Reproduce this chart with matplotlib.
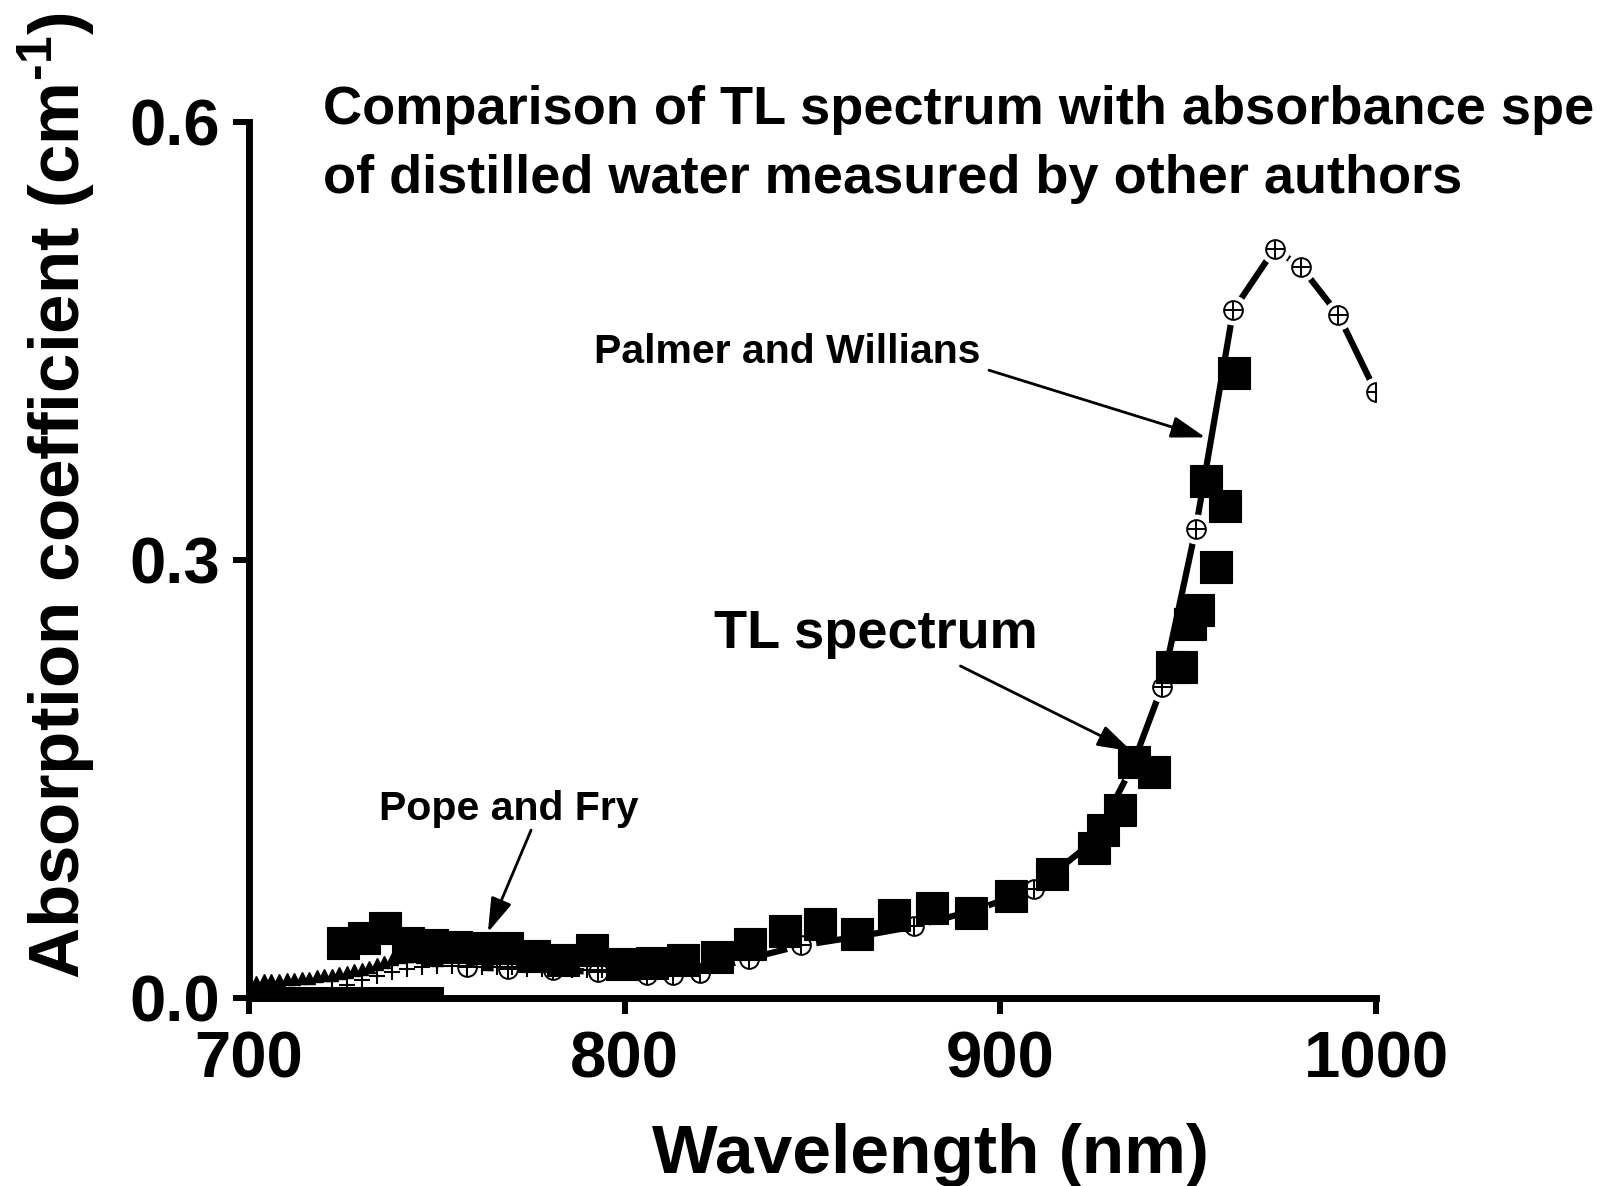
import matplotlib.pyplot as plt

plt.rcParams['font.family'] = ['Liberation Sans', 'DejaVu Sans']
plt.rcParams['font.weight'] = 'bold'
plt.rcParams['mathtext.fontset'] = 'custom'
plt.rcParams['mathtext.rm'] = 'Liberation Sans:bold'
plt.rcParams['mathtext.bf'] = 'Liberation Sans:bold'

# TL spectrum (filled squares)
tl_wl = [725.1, 730.6, 736.1, 742.3, 748.6, 755.0, 762.0, 768.6, 776.0, 783.6,
         791.2, 799.2, 807.2, 815.5, 824.5, 833.4, 842.7, 852.1, 861.8, 871.6,
         881.9, 892.3, 902.9, 913.8, 924.9, 927.3, 931.8, 935.6, 940.9, 945.7,
         948.1, 950.5, 952.6, 954.7, 957.4, 959.8, 962.2]
tl_val = [0.038, 0.041, 0.048, 0.038, 0.036, 0.035, 0.034, 0.034, 0.029, 0.026,
          0.033, 0.023, 0.024, 0.026, 0.028, 0.037, 0.046, 0.051, 0.044, 0.057,
          0.062, 0.058, 0.070, 0.085, 0.103, 0.115, 0.129, 0.162, 0.155, 0.227,
          0.227, 0.256, 0.266, 0.354, 0.295, 0.337, 0.428]

# Palmer and Willians (circle with cross, thick line)
pw_wl = [758, 769, 781, 793, 806, 813, 820, 833, 847, 862, 877, 893, 909,
         925, 935, 943, 952, 962, 973, 980, 990, 1000]
pw_val = [0.021, 0.020, 0.019, 0.018, 0.016, 0.016, 0.017, 0.027, 0.036, 0.042,
          0.049, 0.060, 0.0745, 0.108, 0.158, 0.213, 0.321, 0.471, 0.513, 0.501,
          0.468, 0.415]

# Pope and Fry (dense small markers near the bottom)
pf_tri_wl = [700, 702, 704, 706, 708, 710, 712, 714, 716, 718, 720, 722, 724,
             726, 728, 730, 732, 734, 736, 738, 740, 742, 744, 746, 748, 750]
pf_tri_val = [0.011, 0.011, 0.012, 0.012, 0.012, 0.013, 0.013, 0.014, 0.014,
              0.015, 0.016, 0.016, 0.017, 0.018, 0.019, 0.020, 0.021, 0.023,
              0.025, 0.027, 0.028, 0.029, 0.029, 0.028, 0.027, 0.026]
pf_plus_wl = [722, 726, 730, 734, 738, 742, 746, 750, 754, 758, 762, 766, 770,
              774, 778, 782, 786, 790, 794, 798]
pf_plus_val = [0.006, 0.009, 0.012, 0.015, 0.018, 0.020, 0.021, 0.022, 0.022,
               0.022, 0.021, 0.021, 0.021, 0.020, 0.020, 0.020, 0.019, 0.019,
               0.019, 0.018]
pf_low_wl = [700, 752]
pf_low_val = [0.0048, 0.0048]

fig = plt.figure(figsize=(16.02, 11.86), dpi=100)
ax = fig.add_axes([0.1554, 0.1585, 0.7035, 0.7386])

# Pope and Fry
ax.plot(pf_low_wl, pf_low_val, '-', color='k', lw=5.8, solid_capstyle='butt', zorder=2)
ax.plot(pf_tri_wl, pf_tri_val, '^', color='k', ms=8, zorder=2)
ax.plot(pf_plus_wl, pf_plus_val, '+', color='k', ms=11, mew=1.5, zorder=4.5)

# Palmer and Willians: line with gaps around markers
ax.plot(pw_wl, pw_val, '-', color='k', lw=4.5, zorder=2)
ax.plot(pw_wl, pw_val, 'o', ms=21.5, mfc='white', mec='none', zorder=3)
ax.plot(pw_wl, pw_val, 'o', ms=13.5, mfc='white', mec='k', mew=1.4, zorder=4)
ax.plot(pw_wl, pw_val, '+', ms=13.5, color='k', mew=1.4, zorder=4)

# TL spectrum
ax.plot(tl_wl, tl_val, 's', color='k', ms=23, mew=0.8, zorder=6)

ax.set_xlim(700, 1000)
ax.set_ylim(0, 0.6)
ax.set_xticks([700, 800, 900, 1000])
ax.set_yticks([0.0, 0.3, 0.6])
ax.set_yticklabels(['0.0', '0.3', '0.6'])
ax.tick_params(axis='both', which='major', direction='out', length=11.5, width=4.3,
               labelsize=47)
ax.tick_params(axis='x', pad=12)
ax.tick_params(axis='y', pad=9)
for lab in ax.get_xticklabels() + ax.get_yticklabels():
    lab.set_fontweight('bold')
for side in ['top', 'right']:
    ax.spines[side].set_visible(False)
for side in ['left', 'bottom']:
    ax.spines[side].set_linewidth(5)

# Axis labels placed as in the original (not centred on axes)
fig.text(0.581, 0.011, 'Wavelength (nm)', ha='center', va='baseline',
         fontsize=50, fontweight='bold')
fig.text(0.035, 0.1745, 'Absorption coefficient (cm$^{\\text{-1}}$)', ha='center',
         va='bottom', rotation=90, fontsize=51, fontweight='bold')

# Title (the first line runs to the right edge in the original)
fig.text(0.2016, 0.907, 'Comparison of TL spectrum with absorbance spe',
         ha='left', va='center', fontsize=39, fontweight='bold')
fig.text(0.2016, 0.849, 'of distilled water measured by other authors',
         ha='left', va='center', fontsize=39, fontweight='bold')

# Annotations: text and arrows drawn separately
arrow = dict(arrowstyle='-|>,head_length=0.7,head_width=0.22', color='k', lw=2,
             mutation_scale=30, shrinkA=0, shrinkB=0)
ax.text(843.2, 0.4425, 'Palmer and Willians', fontsize=29.5, fontweight='bold',
        ha='center', va='center', zorder=7)
ax.annotate('', xy=(954.6, 0.384), xytext=(897, 0.430), arrowprops=arrow, zorder=7)
ax.text(867.0, 0.2495, 'TL spectrum', fontsize=39, fontweight='bold',
        ha='center', va='center', zorder=7)
ax.annotate('', xy=(935.0, 0.169), xytext=(889.4, 0.2274), arrowprops=arrow, zorder=7)
ax.text(769.2, 0.1295, 'Pope and Fry', fontsize=29.5, fontweight='bold',
        ha='center', va='center', zorder=7)
ax.annotate('', xy=(763.6, 0.045), xytext=(775.1, 0.115), arrowprops=arrow, zorder=7)

fig.savefig('out.png', dpi=100)
